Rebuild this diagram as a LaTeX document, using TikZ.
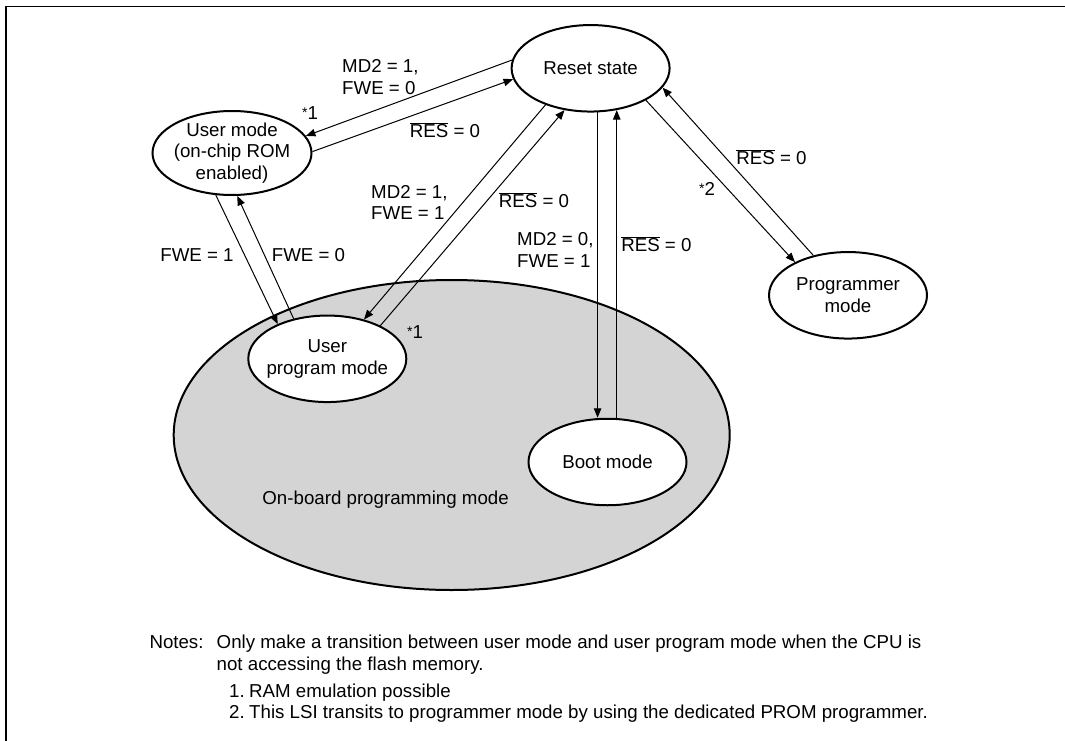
\documentclass[tikz,border=0pt]{standalone}
\usepackage{fontspec}
\setmainfont{Liberation Sans}
\usetikzlibrary{arrows.meta,shapes.geometric}
\newcommand\ovr[1]{$\overline{\mbox{#1}}$}
\newcommand\astk[1]{{\fontsize{14}{14}\selectfont\raisebox{2pt}{*}}#1}
\begin{document}
\begin{tikzpicture}[x=1pt,y=-1pt,
  every node/.style={font=\fontsize{18.7}{21.5}\selectfont, inner sep=0pt},
  st/.style={ellipse, draw, line width=2pt, fill=white, minimum width=158pt,
    minimum height=86.5pt, inner xsep=-8pt, inner ysep=-4pt, align=center},
  arr/.style={line width=1pt, -{Triangle[length=9.5pt,width=7.5pt]}},
  lbl/.style={align=left},
  note/.style={anchor=base west}]
\useasboundingbox (0,0) rectangle (1065,741);
% frame (only top and left edges visible)
\draw[line width=1.8pt] (5.7,750) -- (5.7,6.5) -- (1075,6.5);
% on-board region
\node[ellipse, draw, line width=2pt, fill={rgb,255:red,212;green,212;blue,212},
  minimum width=556pt, minimum height=310pt] (big) at (451.7,435) {};
\node (onb) at (385.6,499.2) {On-board programming mode};
% states
\node[st] (reset) at (590.6,68.3) {Reset state};
\node[st, minimum width=159pt, minimum height=84pt] (user) at (232,153) {User mode\\(on-chip ROM\\enabled)};
\node[st] (uprog) at (327.3,358.8) {User\\program mode};
\node[st] (boot) at (607.5,462) {Boot mode};
\node[st] (prog) at (848,295.3) {Programmer\\mode};
% connectors
\draw[arr] (reset.174) -- (user.13);
\draw[arr] (user.1) -- (reset.188);
\draw[arr] (user.249) -- (uprog.145);
\draw[arr] (uprog.130) -- (user.277);
\draw[arr] (reset.219) -- (uprog.47);
\draw[arr] (uprog.32) -- (reset.238);
\draw[arr] (reset.279) -- (reset.279 |- boot.north);
\draw[arr] (reset.302 |- boot.north) -- (reset.302);
\draw[arr] (reset.330) -- (prog.148);
\draw[arr] (prog.131) -- (reset.345);
% labels
\node[lbl, anchor=west] (l1) at (342,77) {MD2 = 1,\\FWE = 0};
\node (s1) at (310,113) {\astk{1}};
\node (r1) at (445,130) {\ovr{RES} = 0};
\node[lbl, anchor=west] (l2) at (371,202.5) {MD2 = 1,\\FWE = 1};
\node (r2) at (534,200) {\ovr{RES} = 0};
\node (f1) at (197,255.5) {FWE = 1};
\node (f0) at (308.5,255.5) {FWE = 0};
\node (s2) at (415,332.5) {\astk{1}};
\node[lbl, anchor=west] (l3) at (517,250) {MD2 = 0,\\FWE = 1};
\node (r3) at (656.4,244) {\ovr{RES} = 0};
\node (r4) at (771.5,157.5) {\ovr{RES} = 0};
\node (s3) at (707,188.5) {\astk{2}};
% notes
\node[note] (n0) at (149.3,648.5) {Notes:};
\node[note] (n1) at (216.5,648.5) {Only make a transition between user mode and user program mode when the CPU is};
\node[note] (n2) at (216.5,670) {not accessing the flash memory.};
\node[note] (n3a) at (229,697) {1.};
\node[note] (n3) at (249,697) {RAM emulation possible};
\node[note] (n4a) at (229,718.5) {2.};
\node[note] (n4) at (249,718.5) {This LSI transits to programmer mode by using the dedicated PROM programmer.};
\end{tikzpicture}
\end{document}
